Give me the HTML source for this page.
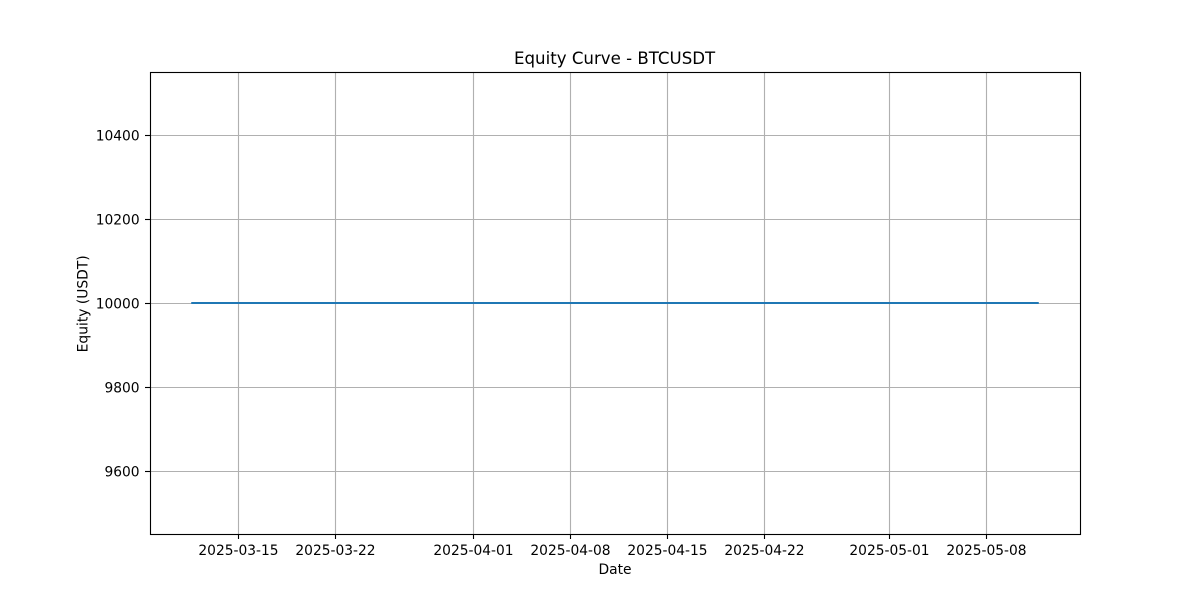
<!DOCTYPE html>
<html lang="en">
<head>
<meta charset="utf-8">
<title>Equity Curve - BTCUSDT</title>
<style>
html,body{margin:0;padding:0;background:#fff;}
svg{display:block;}
text{font-family:"DejaVu Sans","Liberation Sans",sans-serif;fill:#000;}
</style>
</head>
<body>
<svg id="chart" xmlns="http://www.w3.org/2000/svg" width="1200" height="600" viewBox="0 0 1200 600">
  <rect x="0" y="0" width="1200" height="600" fill="#ffffff"/>
  <g id="grid"></g>
  <g id="series"></g>
  <g id="ticks"></g>
  <rect x="150.5" y="72.5" width="930" height="462" fill="none" stroke="#000" stroke-width="1.11"/>
  <text x="614.6" y="64" font-size="16.62" text-anchor="middle">Equity Curve - BTCUSDT</text>
  <text x="615" y="574" font-size="13.85" text-anchor="middle">Date</text>
  <text x="87.6" y="303.8" font-size="13.85" text-anchor="middle" transform="rotate(-90 87.6 303.8)">Equity (USDT)</text>
</svg>
<script>
const dates = ["2025-03-11T16:30", "2025-03-22T00:00", "2025-04-01T00:00", "2025-04-15T00:00", "2025-05-01T00:00", "2025-05-11T16:30"];
const equity = [10000, 10000, 10000, 10000, 10000, 10000];
const xTickLabels = ["2025-03-15", "2025-03-22", "2025-04-01", "2025-04-08", "2025-04-15", "2025-04-22", "2025-05-01", "2025-05-08"];
const yTickLabels = [9600, 9800, 10000, 10200, 10400];

const NS = "http://www.w3.org/2000/svg";
const plotLeft = 150, plotRight = 1080, plotTop = 72, plotBottom = 534;
const yMin = 9450, yMax = 10550;
const times = dates.map(d => Date.parse(d + "Z"));
const tMin = Math.min(...times), tMax = Math.max(...times);
const tPad = (tMax - tMin) * 0.05;

function xScale(t) {
  return plotLeft + (t - (tMin - tPad)) / ((tMax + tPad) - (tMin - tPad)) * (plotRight - plotLeft);
}
function yScale(v) {
  return plotBottom - (v - yMin) / (yMax - yMin) * (plotBottom - plotTop);
}
function snap(p) {
  return Math.floor(p) + 0.5;
}
function line(x1, y1, x2, y2, stroke) {
  const el = document.createElementNS(NS, "line");
  el.setAttribute("x1", x1);
  el.setAttribute("y1", y1);
  el.setAttribute("x2", x2);
  el.setAttribute("y2", y2);
  el.setAttribute("stroke", stroke);
  el.setAttribute("stroke-width", "1.11");
  return el;
}
function label(x, y, str, anchor) {
  const el = document.createElementNS(NS, "text");
  el.setAttribute("x", x);
  el.setAttribute("y", y);
  el.setAttribute("font-size", "13.8");
  el.setAttribute("text-anchor", anchor);
  el.textContent = str;
  return el;
}

const gridG = document.getElementById("grid");
const tickG = document.getElementById("ticks");
const seriesG = document.getElementById("series");

xTickLabels.forEach(d => {
  const x = snap(xScale(Date.parse(d + "T00:00Z")));
  const g = line(x, plotTop, x, plotBottom, "#b0b0b0");
  
  
  gridG.appendChild(g);
  const t = line(x, plotBottom, x, plotBottom + 5, "#000");
  
  
  tickG.appendChild(t);
  const l = label(x, 555, d, "middle");
  
  
  tickG.appendChild(l);
});

yTickLabels.forEach(v => {
  const y = snap(yScale(v));
  const g = line(plotLeft, y, plotRight, y, "#b0b0b0");
  
  
  gridG.appendChild(g);
  const t = line(plotLeft - 5, y, plotLeft, y, "#000");
  
  
  tickG.appendChild(t);
  const l = label(139.6, y + 5.2, String(v), "end");
  
  
  tickG.appendChild(l);
});

const path = document.createElementNS(NS, "polyline");
path.setAttribute("points", times.map((t, i) => xScale(t).toFixed(2) + "," + yScale(equity[i]).toFixed(2)).join(" "));
path.setAttribute("fill", "none");
path.setAttribute("stroke", "#1f77b4");
path.setAttribute("stroke-width", "2.08");
path.setAttribute("stroke-linecap", "square");
path.setAttribute("stroke-linejoin", "round");


seriesG.appendChild(path);
</script>
</body>
</html>
